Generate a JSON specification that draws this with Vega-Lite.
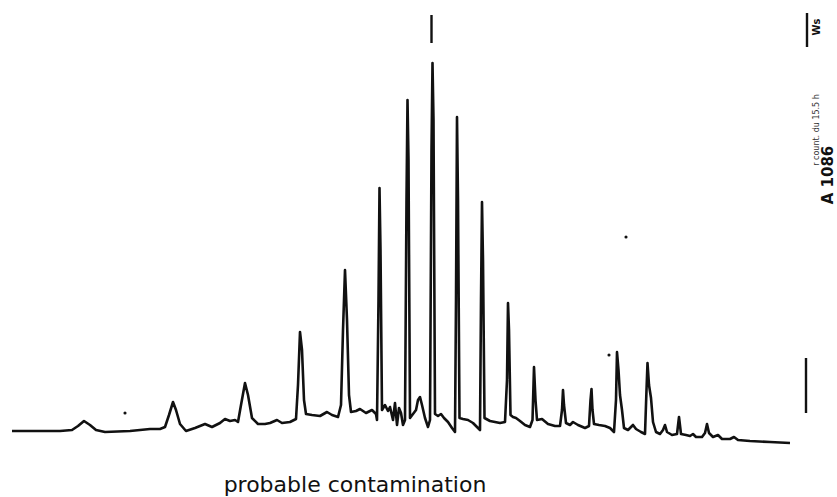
{
  "$schema": "https://vega.github.io/schema/vega-lite/v6.json",
  "width": 837,
  "height": 497,
  "autosize": {"type": "fit", "contains": "padding"},
  "padding": 0,
  "background": "white",
  "config": {"view": {"stroke": null}},
  "datasets": {
    "trace": [
      {"t": 0, "s": 14}, {"t": 2.8, "s": 14}, {"t": 4.8, "s": 14}, {"t": 6.0, "s": 15},
      {"t": 6.6, "s": 19}, {"t": 7.2, "s": 24}, {"t": 7.8, "s": 20}, {"t": 8.4, "s": 15},
      {"t": 9.3, "s": 13}, {"t": 11.8, "s": 14}, {"t": 13.8, "s": 16}, {"t": 14.8, "s": 16},
      {"t": 15.3, "s": 18}, {"t": 15.7, "s": 30}, {"t": 16.1, "s": 43}, {"t": 16.4, "s": 35},
      {"t": 16.8, "s": 21}, {"t": 17.4, "s": 14}, {"t": 18.3, "s": 17}, {"t": 19.3, "s": 21},
      {"t": 20.0, "s": 18}, {"t": 20.8, "s": 22}, {"t": 21.3, "s": 26}, {"t": 21.8, "s": 24},
      {"t": 22.3, "s": 25}, {"t": 22.6, "s": 23}, {"t": 22.9, "s": 40}, {"t": 23.3, "s": 62},
      {"t": 23.6, "s": 50}, {"t": 24.0, "s": 27}, {"t": 24.6, "s": 21}, {"t": 25.3, "s": 21},
      {"t": 25.8, "s": 22}, {"t": 26.5, "s": 25}, {"t": 27.0, "s": 22}, {"t": 27.8, "s": 23},
      {"t": 28.4, "s": 26}, {"t": 28.6, "s": 60}, {"t": 28.8, "s": 113}, {"t": 29.0, "s": 95},
      {"t": 29.2, "s": 45}, {"t": 29.4, "s": 31}, {"t": 30.0, "s": 30}, {"t": 30.8, "s": 29},
      {"t": 31.5, "s": 33}, {"t": 32.0, "s": 30}, {"t": 32.6, "s": 28}, {"t": 32.9, "s": 40},
      {"t": 33.1, "s": 115}, {"t": 33.3, "s": 175}, {"t": 33.5, "s": 125}, {"t": 33.7, "s": 50},
      {"t": 33.9, "s": 33}, {"t": 34.4, "s": 34}, {"t": 34.8, "s": 36}, {"t": 35.4, "s": 32},
      {"t": 36.0, "s": 35}, {"t": 36.4, "s": 31}, {"t": 36.5, "s": 25}, {"t": 36.65, "s": 145},
      {"t": 36.75, "s": 257}, {"t": 36.85, "s": 195}, {"t": 37.0, "s": 35}, {"t": 37.3, "s": 40},
      {"t": 37.6, "s": 34}, {"t": 37.8, "s": 38}, {"t": 38.1, "s": 25}, {"t": 38.3, "s": 42},
      {"t": 38.5, "s": 20}, {"t": 38.7, "s": 37}, {"t": 38.9, "s": 32}, {"t": 39.1, "s": 20},
      {"t": 39.3, "s": 25}, {"t": 39.45, "s": 245}, {"t": 39.55, "s": 345}, {"t": 39.65, "s": 285},
      {"t": 39.8, "s": 27}, {"t": 40.1, "s": 31}, {"t": 40.4, "s": 35}, {"t": 40.6, "s": 45},
      {"t": 40.8, "s": 48}, {"t": 41.0, "s": 40}, {"t": 41.3, "s": 27}, {"t": 41.6, "s": 18},
      {"t": 41.8, "s": 25}, {"t": 41.95, "s": 295}, {"t": 42.05, "s": 382}, {"t": 42.15, "s": 325},
      {"t": 42.3, "s": 31}, {"t": 42.6, "s": 29}, {"t": 42.9, "s": 31}, {"t": 43.2, "s": 27},
      {"t": 43.6, "s": 23}, {"t": 44.0, "s": 17}, {"t": 44.3, "s": 13}, {"t": 44.4, "s": 145},
      {"t": 44.5, "s": 328}, {"t": 44.6, "s": 245}, {"t": 44.75, "s": 27}, {"t": 45.1, "s": 26},
      {"t": 45.6, "s": 25}, {"t": 46.1, "s": 22}, {"t": 46.6, "s": 17}, {"t": 46.8, "s": 15},
      {"t": 46.9, "s": 145}, {"t": 47.0, "s": 243}, {"t": 47.1, "s": 185}, {"t": 47.25, "s": 27},
      {"t": 47.8, "s": 24}, {"t": 48.3, "s": 23}, {"t": 48.8, "s": 22}, {"t": 49.3, "s": 23},
      {"t": 49.5, "s": 65}, {"t": 49.6, "s": 142}, {"t": 49.7, "s": 115}, {"t": 49.85, "s": 30},
      {"t": 50.1, "s": 28}, {"t": 50.4, "s": 27}, {"t": 50.8, "s": 24}, {"t": 51.3, "s": 20},
      {"t": 51.8, "s": 18}, {"t": 52.05, "s": 25}, {"t": 52.2, "s": 78}, {"t": 52.35, "s": 45},
      {"t": 52.5, "s": 25}, {"t": 53.0, "s": 26}, {"t": 53.6, "s": 21}, {"t": 54.3, "s": 19},
      {"t": 54.8, "s": 19}, {"t": 55.0, "s": 35}, {"t": 55.1, "s": 55}, {"t": 55.2, "s": 40},
      {"t": 55.4, "s": 22}, {"t": 55.8, "s": 20}, {"t": 56.1, "s": 23}, {"t": 56.6, "s": 20},
      {"t": 57.3, "s": 17}, {"t": 57.7, "s": 19}, {"t": 57.85, "s": 45}, {"t": 57.95, "s": 56},
      {"t": 58.05, "s": 35}, {"t": 58.2, "s": 21}, {"t": 58.7, "s": 20}, {"t": 59.3, "s": 19},
      {"t": 59.8, "s": 17}, {"t": 60.2, "s": 13}, {"t": 60.4, "s": 45}, {"t": 60.5, "s": 93},
      {"t": 60.65, "s": 75}, {"t": 60.8, "s": 50}, {"t": 61.0, "s": 35}, {"t": 61.2, "s": 17},
      {"t": 61.6, "s": 15}, {"t": 62.1, "s": 20}, {"t": 62.4, "s": 16}, {"t": 62.9, "s": 13},
      {"t": 63.3, "s": 11}, {"t": 63.45, "s": 55}, {"t": 63.55, "s": 82}, {"t": 63.7, "s": 60},
      {"t": 63.9, "s": 47}, {"t": 64.1, "s": 23}, {"t": 64.4, "s": 13}, {"t": 64.8, "s": 11},
      {"t": 65.1, "s": 15}, {"t": 65.3, "s": 20}, {"t": 65.5, "s": 13}, {"t": 66.0, "s": 10},
      {"t": 66.5, "s": 11}, {"t": 66.7, "s": 28}, {"t": 66.9, "s": 11}, {"t": 67.4, "s": 10},
      {"t": 67.8, "s": 9}, {"t": 68.1, "s": 11}, {"t": 68.4, "s": 8}, {"t": 69.0, "s": 8},
      {"t": 69.3, "s": 12}, {"t": 69.5, "s": 21}, {"t": 69.7, "s": 12}, {"t": 70.1, "s": 8},
      {"t": 70.6, "s": 10}, {"t": 71.0, "s": 6}, {"t": 71.8, "s": 6}, {"t": 72.2, "s": 8},
      {"t": 72.6, "s": 5}, {"t": 73.8, "s": 4}, {"t": 75.8, "s": 3}, {"t": 77.8, "s": 2}
    ],
    "marks": [
      {"t": 41.95, "s": 430, "s2": 402},
      {"t": 79.5, "s": 432, "s2": 398},
      {"t": 79.4, "s": 87, "s2": 32}
    ],
    "specks": [
      {"t": 11.3, "s": 32},
      {"t": 59.7, "s": 90},
      {"t": 61.4, "s": 208}
    ],
    "caption": [
      {"t": 34.3, "s": -47, "label": "probable contamination"}
    ],
    "sampleId": [
      {"t": 81.6, "s": 270, "label": "A 1086"}
    ],
    "runNote": [
      {"t": 80.5, "s": 315, "label": "r count. du 15.5 h"}
    ],
    "operator": [
      {"t": 80.5, "s": 418, "label": "Ws"}
    ]
  },
  "layer": [
    {
      "data": {"name": "trace"},
      "mark": {"type": "line", "color": "#111111", "strokeWidth": 2.6, "strokeJoin": "round"},
      "encoding": {
        "x": {"field": "t", "type": "quantitative", "scale": {"domain": [-1.2, 82.5], "nice": false, "zero": false}, "axis": null},
        "y": {"field": "s", "type": "quantitative", "scale": {"domain": [-52, 445], "nice": false, "zero": false}, "axis": null}
      }
    },
    {
      "data": {"name": "marks"},
      "mark": {"type": "rule", "color": "#111111", "strokeWidth": 2.4},
      "encoding": {
        "x": {"field": "t", "type": "quantitative"},
        "y": {"field": "s", "type": "quantitative"},
        "y2": {"field": "s2"}
      }
    },
    {
      "data": {"name": "specks"},
      "mark": {"type": "circle", "color": "#111111", "size": 10, "opacity": 1},
      "encoding": {
        "x": {"field": "t", "type": "quantitative"},
        "y": {"field": "s", "type": "quantitative"}
      }
    },
    {
      "data": {"name": "caption"},
      "mark": {"type": "text", "color": "#111111", "font": "DejaVu Sans", "fontSize": 22, "align": "center", "baseline": "alphabetic"},
      "encoding": {
        "x": {"field": "t", "type": "quantitative"},
        "y": {"field": "s", "type": "quantitative"},
        "text": {"field": "label"}
      }
    },
    {
      "data": {"name": "sampleId"},
      "mark": {"type": "text", "color": "#111111", "font": "DejaVu Sans", "fontSize": 15, "fontWeight": "bold", "angle": 270, "align": "center", "baseline": "middle"},
      "encoding": {
        "x": {"field": "t", "type": "quantitative"},
        "y": {"field": "s", "type": "quantitative"},
        "text": {"field": "label"}
      }
    },
    {
      "data": {"name": "runNote"},
      "mark": {"type": "text", "color": "#333333", "font": "DejaVu Sans", "fontSize": 8, "angle": 270, "align": "center", "baseline": "middle"},
      "encoding": {
        "x": {"field": "t", "type": "quantitative"},
        "y": {"field": "s", "type": "quantitative"},
        "text": {"field": "label"}
      }
    },
    {
      "data": {"name": "operator"},
      "mark": {"type": "text", "color": "#111111", "font": "DejaVu Sans", "fontSize": 10, "fontWeight": "bold", "angle": 270, "align": "center", "baseline": "middle"},
      "encoding": {
        "x": {"field": "t", "type": "quantitative"},
        "y": {"field": "s", "type": "quantitative"},
        "text": {"field": "label"}
      }
    }
  ]
}
